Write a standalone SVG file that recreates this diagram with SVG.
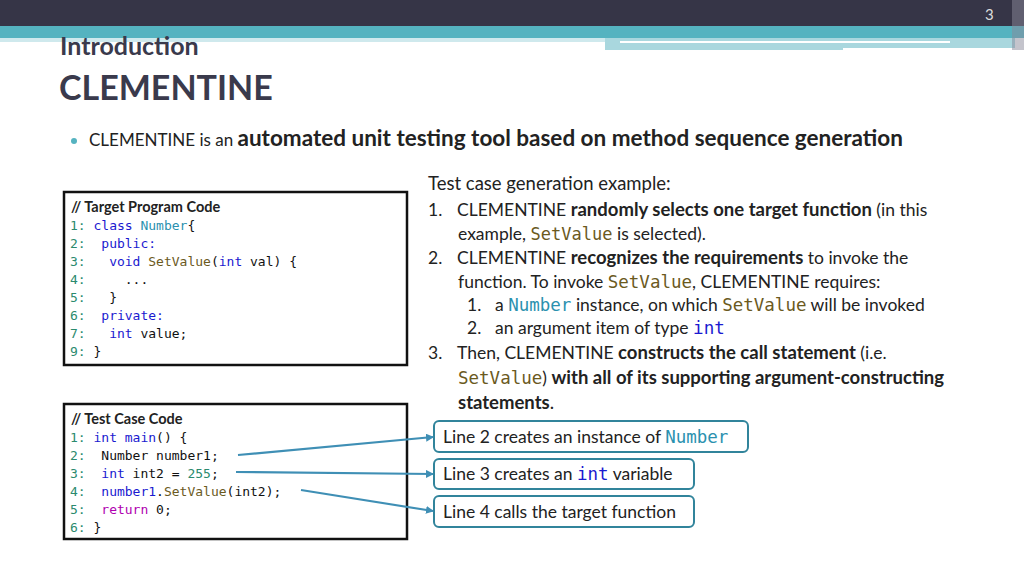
<svg xmlns="http://www.w3.org/2000/svg" width="1024" height="576" viewBox="0 0 1024 576">
<style>
.t{font-family:Lato,"Open Sans",sans-serif;fill:#222}
.m{font-family:"DejaVu Sans Mono","Liberation Mono",monospace;font-size:13px;fill:#111;white-space:pre}
.n{fill:#2b8a6e}.k{fill:#1a1ad0}.c{fill:#2b91af}.f{fill:#6b5a1e}.p{fill:#b000b0}
.mc{font-family:"DejaVu Sans Mono","Liberation Mono",monospace}
.box{fill:#fff;stroke:#111;stroke-width:2.5}
.lb{fill:#fff;stroke:#31849b;stroke-width:2}
.con{stroke:#3f8fb5;stroke-width:2.2;fill:none;marker-end:url(#ah)}
</style>
<defs><marker id="ah" markerWidth="8" markerHeight="8" refX="7" refY="4" orient="auto" markerUnits="userSpaceOnUse"><path d="M0,0 L8,4 L0,8z" fill="#3f8fb5"/></marker></defs>
<rect width="1024" height="576" fill="#fff"/>
<rect width="1024" height="26" fill="#363547"/>
<rect y="26" width="1024" height="12" fill="#55b3c0"/>
<rect x="0" y="38" width="605" height="4" fill="#cfe9ed"/>
<rect x="605" y="38" width="410" height="12" fill="#a9d7de"/>
<rect x="620" y="41" width="330" height="2" fill="#fff"/>
<rect x="843" y="48" width="180" height="3" fill="#fff"/>
<rect x="1012" y="0" width="12" height="50" fill="#8a8a9a" opacity="0.5"/>
<text x="985" y="20" class="t" font-size="15" style="fill:#ddd">3</text>
<text x="60" y="55" class="t" font-size="25" font-weight="bold" style="fill:#3a3a4c">Introduction</text>
<text x="59" y="100" class="t" font-size="34" font-weight="bold" style="fill:#3a3a4c">CLEMENTINE</text>
<circle cx="74" cy="141" r="3" fill="#55b3c0"/>
<text x="89" y="146" class="t" font-size="17">CLEMENTINE is an <tspan font-size="22.5" font-weight="bold">automated unit testing tool based on method sequence generation</tspan></text>

<g id="desc" class="t" font-size="17.5">
<text x="428" y="190" font-size="18.5">Test case generation example:</text>
<text x="428" y="216">1.</text><text x="457" y="216">CLEMENTINE <tspan font-weight="bold" font-size="18.5">randomly selects one target function</tspan> (in this</text>
<text x="458" y="240">example, <tspan class="mc f" font-size="17">SetValue</tspan> is selected).</text>
<text x="428" y="264">2.</text><text x="457" y="264">CLEMENTINE <tspan font-weight="bold" font-size="18.5">recognizes the requirements</tspan> to invoke the</text>
<text x="458" y="288">function. To invoke <tspan class="mc f">SetValue</tspan>, CLEMENTINE requires:</text>
<text x="467" y="311">1.</text><text x="495" y="311">a <tspan class="mc c">Number</tspan> instance, on which <tspan class="mc f">SetValue</tspan> will be invoked</text>
<text x="467" y="334">2.</text><text x="495" y="334">an argument item of type <tspan class="mc k">int</tspan></text>
<text x="428" y="359">3.</text><text x="457" y="359">Then, CLEMENTINE <tspan font-weight="bold" font-size="18.5">constructs the call statement</tspan> (i.e.</text>
<text x="458" y="384"><tspan class="mc f">SetValue</tspan>) <tspan font-weight="bold" font-size="18.5">with all of its supporting argument-constructing</tspan></text>
<text x="458" y="409" font-weight="bold" font-size="18.5">statements<tspan font-weight="normal">.</tspan></text>
</g>

<g id="target">
<rect x="64" y="192" width="343" height="173" class="box"/>
<text x="71" y="212" class="t" font-size="14.5" font-weight="bold">// Target Program Code</text>
<text class="m" xml:space="preserve"><tspan x="70" y="230"><tspan class="n">1:</tspan> <tspan class="k">class</tspan> <tspan class="c">Number</tspan>{</tspan><tspan x="70" y="248"><tspan class="n">2:</tspan>  <tspan class="k">public:</tspan></tspan><tspan x="70" y="266"><tspan class="n">3:</tspan>   <tspan class="k">void</tspan> <tspan class="f">SetValue</tspan>(<tspan class="k">int</tspan> val) {</tspan><tspan x="70" y="284"><tspan class="n">4:</tspan>     ...</tspan><tspan x="70" y="302"><tspan class="n">5:</tspan>   }</tspan><tspan x="70" y="320"><tspan class="n">6:</tspan>  <tspan class="k">private:</tspan></tspan><tspan x="70" y="338"><tspan class="n">7:</tspan>   <tspan class="k">int</tspan> value;</tspan><tspan x="70" y="356"><tspan class="n">9:</tspan> }</tspan></text>
</g>

<g id="testcase">
<rect x="64" y="404" width="343" height="135" class="box"/>
<text x="71" y="424" class="t" font-size="14.5" font-weight="bold">// Test Case Code</text>
<text class="m" xml:space="preserve"><tspan x="70" y="442"><tspan class="n">1:</tspan> <tspan class="k">int</tspan> <tspan class="k">main</tspan>() {</tspan><tspan x="70" y="460"><tspan class="n">2:</tspan>  Number number1;</tspan><tspan x="70" y="478"><tspan class="n">3:</tspan>  <tspan class="k">int</tspan> int2 = <tspan class="n">255</tspan>;</tspan><tspan x="70" y="496"><tspan class="n">4:</tspan>  <tspan class="k">number1</tspan>.<tspan class="f">SetValue</tspan>(int2);</tspan><tspan x="70" y="514"><tspan class="n">5:</tspan>  <tspan class="p">return</tspan> 0;</tspan><tspan x="70" y="532"><tspan class="n">6:</tspan> }</tspan></text>
</g>

<g id="lab1"><rect x="434" y="421" width="314" height="31" rx="5" class="lb"/>
<text x="443" y="443" class="t" font-size="17.5">Line 2 creates an instance of <tspan class="mc c">Number</tspan></text></g>
<g id="lab2"><rect x="434" y="459" width="260" height="30" rx="5" class="lb"/>
<text x="443" y="480" class="t" font-size="17.5">Line 3 creates an <tspan class="mc k">int</tspan> variable</text></g>
<g id="lab3"><rect x="434" y="496" width="260" height="31" rx="5" class="lb"/>
<text x="443" y="518" class="t" font-size="17.5">Line 4 calls the target function</text></g>

<g id="connectors">
<path d="M238,455 L433,437" class="con"/>
<path d="M236,472 L433,474" class="con"/>
<path d="M301,490 L433,511" class="con"/>
</g>
</svg>
